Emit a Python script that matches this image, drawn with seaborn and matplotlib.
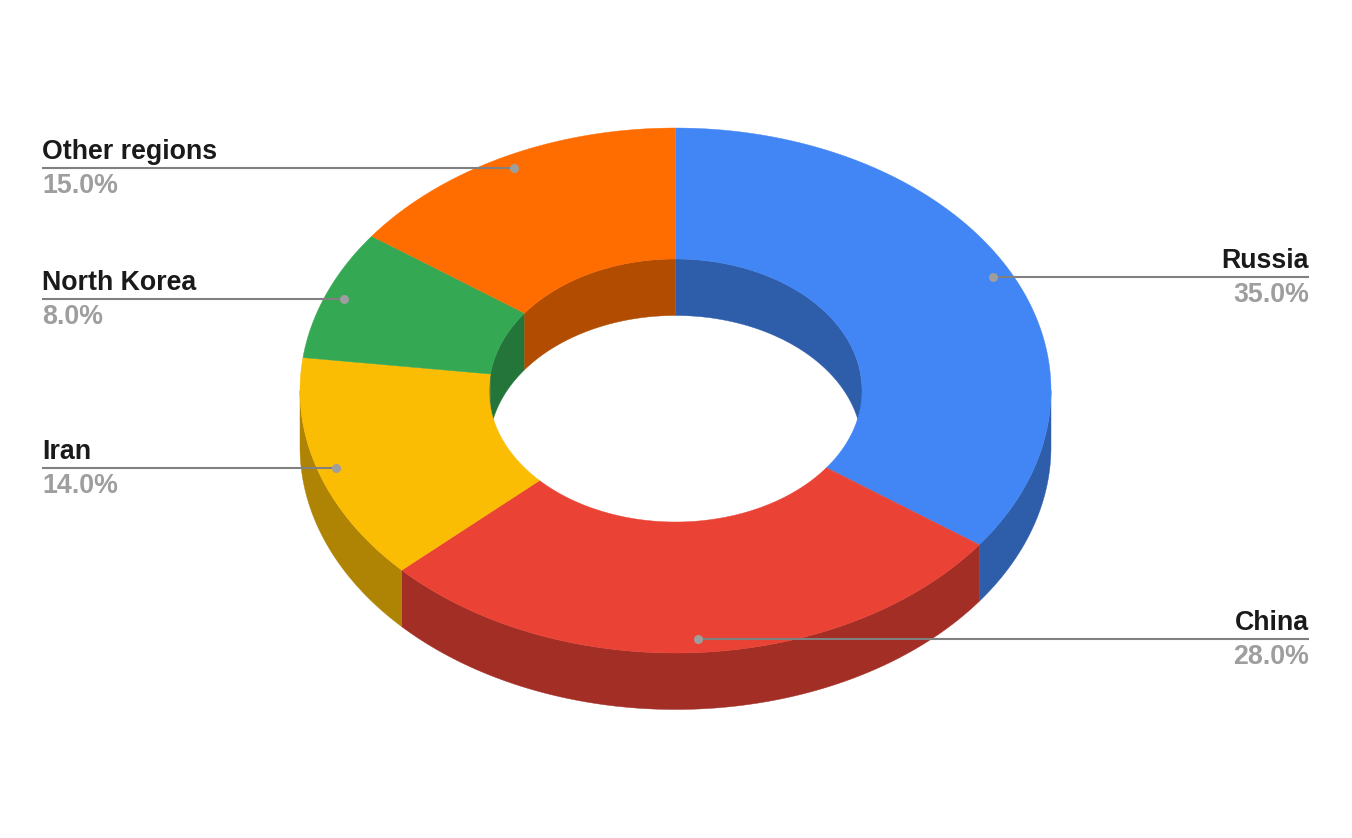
import numpy as np
import matplotlib
matplotlib.use("Agg")
import matplotlib.pyplot as plt
import seaborn as sns

# ---- data ----
regions = ["Russia", "China", "Iran", "North Korea", "Other regions"]
shares = [35.0, 28.0, 14.0, 8.0, 15.0]
top_colors = ["#4285f4", "#ea4335", "#fbbc04", "#34a853", "#ff6d01"]
side_colors = ["#2e5daa", "#a32e25", "#af8303", "#24753a", "#b24c00"]

# ---- geometry of the ring, in pixels ----
cx, cy = 675.5, 390.5
rx_out, ry_out = 375.5, 262.5
rx_in, ry_in = 186.5, 131.5
depth = 56.5
label_left, label_right = 42, 1309

sns.set_theme(style="white")
plt.rcParams["font.family"] = ["Liberation Sans", "DejaVu Sans"]

fig, ax = plt.subplots(figsize=(13.52, 8.38), dpi=100)
ax.set_position([0, 0, 1, 1])
ax.set_xlim(0, 1352)
ax.set_ylim(838, 0)
ax.axis("off")


def arc(t0, t1, rx, ry, dy=0):
    # angles in degrees, clockwise from 12 o'clock
    t = np.radians(np.linspace(t0, t1, 200))
    return cx + rx * np.sin(t), cy - ry * np.cos(t) + dy


def band(t0, t1, rx, ry, color, z):
    x1, y1 = arc(t0, t1, rx, ry)
    x2, y2 = arc(t1, t0, rx, ry, depth)
    ax.fill(np.r_[x1, x2], np.r_[y1, y2], color=color, lw=0.3, zorder=z)


edges = np.r_[0, np.cumsum(shares)] / sum(shares) * 360

# ---- walls ----
for i in range(len(regions)):
    t0, t1 = edges[i], edges[i + 1]
    # outer wall, front half only
    lo, hi = max(t0, 90), min(t1, 270)
    if lo < hi:
        band(lo, hi, rx_out, ry_out, side_colors[i], 1)
    # inner wall, back half only
    for lo, hi in [(max(t0, 0), min(t1, 90)), (max(t0, 270), min(t1, 360))]:
        if lo < hi:
            band(lo, hi, rx_in, ry_in, side_colors[i], 2)

# ---- top face ----
for i in range(len(regions)):
    t0, t1 = edges[i], edges[i + 1]
    x1, y1 = arc(t0, t1, rx_out, ry_out)
    x2, y2 = arc(t1, t0, rx_in, ry_in)
    ax.fill(np.r_[x1, x2], np.r_[y1, y2], color=top_colors[i], lw=0.3, zorder=3)

# ---- labels with leader lines ----
for i, name in enumerate(regions):
    mid = (edges[i] + edges[i + 1]) / 2
    px, py = arc(mid, mid, rx_out * 0.95, ry_out * 0.95)
    px, py = px[0], py[0]
    left = mid > 180
    end = label_left if left else label_right
    ha = "left" if left else "right"
    ax.plot([px, end], [py, py], color="#808080", lw=1.5, zorder=4,
            solid_capstyle="butt")
    ax.plot(px, py, "o", color="#9e9e9e", ms=6.5, mew=0, zorder=5)
    ax.text(end, py - 9, name, ha=ha, va="baseline", fontsize=19.3,
            fontweight="bold", color="#1a1a1a", zorder=5)
    ax.text(end, py + 25, f"{shares[i]:.1f}%", ha=ha, va="baseline", fontsize=19.3,
            fontweight="bold", color="#9e9e9e", zorder=5)

fig.savefig("out.png", dpi=100, facecolor="white")
